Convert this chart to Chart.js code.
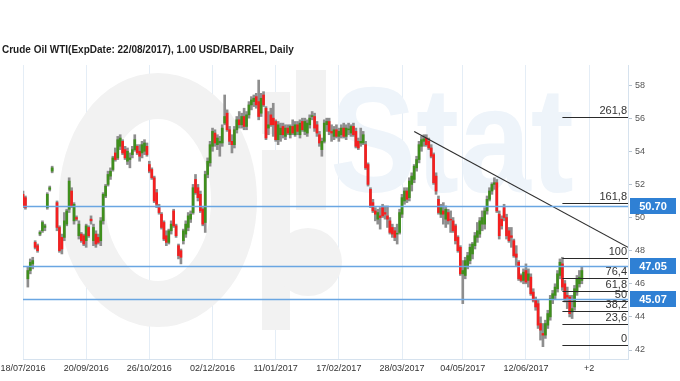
<!DOCTYPE html>
<html><head><meta charset="utf-8">
<script src="https://cdn.jsdelivr.net/npm/chart.js@4.4.1/dist/chart.umd.min.js"></script>
<style>html,body{margin:0;padding:0;background:#fff;}#wrap{width:680px;height:381px;}</style>
</head><body><div id="wrap"><canvas id="c" width="680" height="381"></canvas></div>
<script>
const titleText = 'Crude Oil WTI(ExpDate: 22/08/2017), 1.00 USD/BARREL, Daily';
const tickPositions = [0, 26, 52, 78, 104, 130, 156, 181, 207, 233];
const tickLabels = ['18/07/2016','20/09/2016','26/10/2016','02/12/2016','11/01/2017','17/02/2017','28/03/2017','04/05/2017','12/06/2017','+2'];
const yTicks = [42, 44, 46, 48, 50, 52, 54, 56, 58];
const slotCount = 250;

const openP = [
51.4,51.2,46.3,46.8,47.2,48.5,48.3,49.0,49.2,49.4,
50.6,51.7,52.8,null,50.9,49.4,48.8,48.8,49.6,50.5,
51.6,49.8,50.0,48.9,49.0,48.9,48.6,49.4,49.9,48.6,
49.0,48.8,48.6,49.8,51.3,52.0,52.5,52.9,53.9,53.6,
54.3,54.6,54.1,53.4,53.5,53.8,54.1,54.3,54.0,53.9,
54.0,54.3,53.2,52.9,52.4,51.5,50.6,50.2,49.7,48.9,
48.5,49.2,50.4,49.5,48.3,48.0,48.6,49.0,49.4,49.9,
50.3,52.3,51.8,51.4,50.5,49.7,52.6,53.3,54.3,55.1,
54.4,54.5,54.5,55.7,56.3,55.3,54.6,54.4,55.3,55.9,
55.6,56.1,55.5,56.2,56.8,57.0,57.3,57.0,56.3,57.4,
56.6,55.4,56.2,56.0,55.8,54.7,55.0,55.5,54.9,55.4,
55.0,55.5,55.0,55.6,55.0,55.8,55.2,55.1,55.6,56.1,
56.1,55.6,55.0,54.1,54.6,55.6,55.8,55.2,54.9,55.3,
54.9,55.0,55.4,54.9,55.3,55.1,55.5,55.2,54.6,54.5,
54.5,54.4,53.2,51.7,50.9,50.4,49.9,50.1,50.6,50.3,
50.1,49.8,49.4,49.2,49.0,49.1,50.2,51.0,51.6,51.2,
52.0,52.3,53.0,53.5,54.3,54.6,54.8,54.6,54.2,53.8,
52.5,51.1,50.2,50.4,49.9,50.3,49.9,49.8,49.5,48.8,
48.2,46.6,46.5,47.1,47.4,47.8,48.3,48.8,49.0,49.6,
49.6,50.4,51.1,51.6,52.0,52.1,50.2,49.9,50.6,50.0,
49.2,48.9,48.6,47.8,47.3,46.5,46.2,46.8,46.2,46.4,
45.5,45.0,44.8,43.6,43.0,42.9,43.5,44.0,45.1,45.3,
45.7,46.5,47.2,46.0,45.3,45.2,44.3,44.6,45.5,46.0,
46.2];
const highP = [
51.6,51.3,47.0,47.5,47.6,48.6,48.4,49.2,49.8,49.6,
51.5,51.9,53.1,null,51.0,49.5,49.0,50.3,50.5,52.4,
51.8,50.9,50.1,49.8,49.1,49.0,49.6,49.5,50.1,49.6,
49.2,49.0,50.0,51.5,52.0,52.8,53.0,53.7,54.2,54.9,
55.0,54.7,54.3,54.2,53.9,54.3,55.0,54.4,54.4,54.6,
54.7,54.5,53.4,53.0,52.5,51.7,50.8,50.3,49.8,49.2,
49.3,49.8,50.5,49.6,48.4,48.1,49.3,49.8,50.3,50.4,
52.0,52.6,52.0,51.6,50.6,52.8,53.6,54.6,55.4,55.3,
55.0,54.9,55.6,57.4,56.5,55.5,55.0,55.5,56.1,56.4,
56.3,56.6,56.4,57.0,57.3,57.4,57.5,58.3,57.5,57.6,
56.7,56.4,56.6,56.9,55.9,55.8,55.7,55.7,55.6,55.6,
55.6,55.9,55.8,55.8,55.9,56.0,56.0,55.9,56.2,56.4,
56.3,55.8,55.2,54.8,55.9,56.0,56.0,55.6,55.5,55.6,
55.4,55.6,55.7,55.6,55.7,55.6,55.7,55.4,54.8,55.4,
55.2,54.6,53.3,51.8,51.1,50.6,50.5,50.6,50.8,50.7,
50.7,50.0,49.6,49.4,49.6,50.5,51.4,51.8,51.8,52.4,
52.7,53.2,53.7,54.6,54.9,55.0,55.0,54.8,54.4,53.9,
52.7,51.3,50.8,50.9,50.7,50.5,50.4,50.0,49.6,48.9,
48.3,47.4,47.6,47.9,48.4,48.5,49.1,49.7,50.0,50.4,
50.6,51.3,51.8,52.1,52.4,52.3,50.4,50.1,50.8,50.2,
49.4,49.4,48.7,48.3,47.4,46.6,46.9,47.2,46.9,46.6,
45.7,45.2,45.0,44.0,43.6,43.8,44.4,45.3,45.6,46.0,
46.8,47.5,47.6,46.2,45.8,45.3,45.3,45.9,46.5,46.8,
47.0];
const lowP = [
50.6,50.5,45.8,46.6,46.9,48.1,47.9,48.9,49.1,49.2,
50.5,51.6,52.7,null,49.2,47.9,47.8,48.6,49.5,50.3,
50.6,49.6,49.8,48.7,48.5,48.3,48.2,48.8,49.6,48.3,
48.2,48.4,48.3,49.6,51.2,51.9,52.3,52.8,53.4,53.5,
54.1,53.8,53.5,53.2,53.0,53.6,54.0,53.8,53.4,53.6,
53.8,53.7,52.7,52.3,50.9,50.6,50.2,49.3,48.6,48.3,
48.4,49.0,49.4,48.8,47.5,47.2,48.4,48.8,49.2,49.7,
50.2,51.4,51.0,50.3,49.5,49.1,52.4,53.1,54.0,54.3,
54.1,53.7,54.3,55.6,55.2,54.4,53.9,54.2,55.1,55.4,
55.4,55.3,55.3,56.0,56.5,56.7,56.6,55.9,56.1,56.7,
54.7,55.0,55.5,54.9,54.6,54.4,54.6,54.8,54.7,55.0,
54.8,55.0,54.9,55.0,54.8,55.2,55.0,54.9,55.4,55.9,
55.2,54.9,54.3,53.7,54.5,55.2,55.0,54.6,54.7,54.8,
54.6,54.8,54.8,54.7,55.0,54.9,54.9,54.2,54.1,54.3,
54.4,52.9,51.9,50.6,50.3,49.8,49.6,49.3,50.0,49.9,
49.4,49.0,48.8,48.6,48.4,49.0,50.0,50.8,50.9,51.0,
51.6,52.1,52.8,53.3,54.0,54.3,54.3,54.1,53.6,52.0,
51.4,50.2,50.0,49.6,49.4,49.6,49.1,49.1,48.4,47.9,
46.5,44.8,46.3,46.9,47.2,47.5,48.1,48.5,48.8,49.2,
49.3,50.2,51.0,51.4,51.7,50.3,48.7,49.3,49.8,48.7,
48.5,48.2,47.6,47.1,46.2,46.1,46.0,46.0,45.8,45.3,
44.9,44.4,43.3,42.6,42.2,42.7,43.3,43.8,44.8,45.1,
45.5,46.3,45.6,44.9,44.5,44.0,43.9,44.4,45.3,45.8,
46.0];
const closeP = [
50.7,50.6,46.8,47.3,47.4,48.2,48.0,49.1,49.7,49.5,
51.4,51.8,53.0,null,49.4,48.0,48.1,49.8,50.4,52.2,
50.7,50.8,49.9,49.6,48.6,48.4,49.5,48.9,49.8,49.4,
48.4,48.5,49.8,51.4,51.9,52.6,52.8,53.6,53.5,54.7,
54.8,53.9,53.6,54.0,53.6,54.1,54.7,53.9,53.7,54.4,
54.5,53.8,52.8,52.4,51.0,50.8,50.3,49.4,48.7,48.5,
49.2,49.6,49.5,48.9,47.7,47.6,49.2,49.6,50.1,50.2,
51.8,51.5,51.2,50.4,49.6,52.6,53.4,54.4,55.2,54.5,
54.8,54.6,55.4,56.1,55.3,54.6,54.4,55.3,55.9,55.6,
56.1,55.5,56.2,56.8,57.1,57.2,56.8,56.1,57.2,56.8,
54.8,55.6,55.6,55.6,54.7,55.6,55.4,55.0,55.4,55.1,
55.5,55.1,55.6,55.2,55.7,55.3,55.8,55.7,56.0,56.15,
55.4,55.1,54.5,54.6,55.7,55.8,55.2,55.1,55.3,54.9,
55.2,55.4,54.9,55.4,55.35,55.5,55.0,54.3,54.2,54.6,
55.0,53.0,52.0,50.7,50.4,50.2,50.3,50.0,50.1,50.2,
49.9,49.1,49.0,48.8,49.05,50.3,51.2,51.6,51.1,52.2,
52.5,53.1,53.5,54.4,54.7,54.75,54.4,54.2,53.7,52.1,
51.6,50.3,50.6,50.2,50.5,49.8,49.85,49.2,48.6,48.0,
46.6,46.8,47.4,47.7,48.2,48.4,48.9,49.2,49.8,50.0,
50.4,51.1,51.6,52.0,52.1,50.4,48.9,49.5,50.0,48.9,
48.6,48.8,47.7,47.6,46.3,46.2,46.7,46.1,46.6,45.4,
45.0,44.6,43.5,43.2,42.9,43.6,44.2,45.1,45.4,45.8,
46.6,47.3,45.8,45.1,45.2,44.2,44.5,45.7,46.3,46.4,
46.8];

const hLineValues = [50.70, 47.05, 45.07];
const hLineLabels = ['50.70', '47.05', '45.07'];
const trendXs = [161, 249];
const trendYs = [55.2, 48.2];
const fibNames = ['261,8', '161,8', '100', '76,4', '61,8', '50', '38,2', '23,6', '0'];
const fibPrices = [56.10, 50.88, 47.55, 46.35, 45.57, 44.98, 44.33, 43.55, 42.30];
const fibFrom = 222, fibTo = 249;

const UP = '#3f8f1d', DOWN = '#f41f1f', WICK = '#8e8e8e';
const FONT = '"Liberation Sans", Arial, sans-serif';

const wickData = [], bodyData = [], bodyColors = [];
for (let i = 0; i < openP.length; i++) {
  if (openP[i] == null) continue;
  wickData.push({x: i, y: [lowP[i], highP[i]]});
  bodyData.push({x: i, y: [openP[i], closeP[i]]});
  bodyColors.push(closeP[i] >= openP[i] ? UP : DOWN);
}
const trendData = trendXs.map((x, k) => ({x: x, y: trendYs[k]}));

const watermark = {
  id: 'watermark',
  beforeDatasetsDraw(chart) {
    const ctx = chart.ctx;
    ctx.save();
    ctx.fillStyle = '#f2f2f2';
    ctx.strokeStyle = '#f2f2f2';
    ctx.lineWidth = 46;
    ctx.beginPath();
    ctx.ellipse(158, 200, 76, 104, 0, 0, Math.PI * 2);
    ctx.stroke();
    ctx.fillRect(262, 150, 28, 180);
    ctx.fillRect(262, 92, 28, 42);
    ctx.fillRect(296, 70, 30, 140);
    ctx.beginPath();
    ctx.arc(308, 262, 34, 0, Math.PI * 2);
    ctx.fill();
    ctx.fillStyle = '#eef4fa';
    ctx.font = 'bold 150px ' + FONT;
    ctx.textBaseline = 'alphabetic';
    ctx.translate(330, 192);
    ctx.scale(0.86, 1);
    ctx.fillText('Stat', 0, 0);
    ctx.restore();
  }
};

const overlays = {
  id: 'overlays',
  afterDatasetsDraw(chart) {
    const ctx = chart.ctx, xs = chart.scales.x, ys = chart.scales.y, a = chart.chartArea;
    ctx.save();
    ctx.strokeStyle = '#6aa6e2';
    ctx.lineWidth = 1.5;
    hLineValues.forEach(v => {
      const y = Math.round(ys.getPixelForValue(v)) + 0.5;
      ctx.beginPath(); ctx.moveTo(a.left, y); ctx.lineTo(a.right, y); ctx.stroke();
    });
    const x0 = xs.getPixelForValue(fibFrom), x1 = xs.getPixelForValue(fibTo);
    ctx.strokeStyle = '#2a2a2a';
    ctx.lineWidth = 1;
    ctx.fillStyle = '#333';
    ctx.font = '11px ' + FONT;
    ctx.textAlign = 'right';
    ctx.textBaseline = 'bottom';
    fibPrices.forEach((v, k) => {
      const y = Math.round(ys.getPixelForValue(v)) + 0.5;
      ctx.beginPath(); ctx.moveTo(x0, y); ctx.lineTo(x1, y); ctx.stroke();
      ctx.fillText(fibNames[k], x1 - 1, y - 1);
    });
    ctx.restore();
  },
  afterDraw(chart) {
    const ctx = chart.ctx, ys = chart.scales.y, a = chart.chartArea;
    ctx.save();
    ctx.font = 'bold 11px ' + FONT;
    ctx.textAlign = 'center';
    ctx.textBaseline = 'middle';
    hLineValues.forEach((v, k) => {
      const y = Math.round(ys.getPixelForValue(v));
      ctx.fillStyle = '#2f80d4';
      ctx.fillRect(a.right + 2, y - 8, 46, 16);
      ctx.fillStyle = '#ffffff';
      ctx.fillText(hLineLabels[k], a.right + 25, y + 0.5);
    });
    ctx.restore();
  }
};

new Chart(document.getElementById('c'), {
  type: 'bar',
  data: {
    datasets: [
      {type: 'line', data: trendData, borderColor: '#2e2e2e', borderWidth: 1.2, pointRadius: 0, order: 0},
      {data: bodyData, backgroundColor: bodyColors, barThickness: 2, grouped: false, order: 1},
      {data: wickData, backgroundColor: WICK, barThickness: 2, grouped: false, order: 2}
    ]
  },
  options: {
    responsive: false,
    animation: false,
    devicePixelRatio: 1,
    layout: {padding: {left: 2, right: 0, top: 0, bottom: 0}},
    plugins: {
      legend: {display: false},
      tooltip: {enabled: false},
      title: {display: true, text: titleText, align: 'start', color: '#1e1e1e',
        font: {family: FONT, size: 10, weight: 'bold'}, padding: {top: 44, bottom: 9}}
    },
    scales: {
      x: {
        type: 'linear', min: 0, max: slotCount - 1, offset: false,
        afterBuildTicks(s) { s.ticks = tickPositions.map(v => ({value: v})); },
        afterFit(s) { s.height = 22; s.paddingLeft = 23; s.paddingRight = 0; },
        ticks: {autoSkip: false, maxRotation: 0, padding: 4, color: '#333',
          font: {family: FONT, size: 9},
          callback(v) { const k = tickPositions.indexOf(v); return k >= 0 ? tickLabels[k] : ''; }},
        grid: {color: '#e4edf6', drawTicks: false, offset: false},
        border: {color: '#d6e2ee'}
      },
      y: {
        position: 'right', min: 41.457, max: 59.21, beginAtZero: false,
        afterBuildTicks(s) { s.ticks = yTicks.map(v => ({value: v})); },
        afterFit(s) { s.width = 52; },
        ticks: {padding: 3, color: '#555', font: {family: FONT, size: 9}},
        grid: {drawOnChartArea: false, drawTicks: true, tickLength: 4, color: '#b9c6d3'},
        border: {color: '#d6e2ee'}
      }
    }
  },
  plugins: [watermark, overlays]
});
</script></body></html>
